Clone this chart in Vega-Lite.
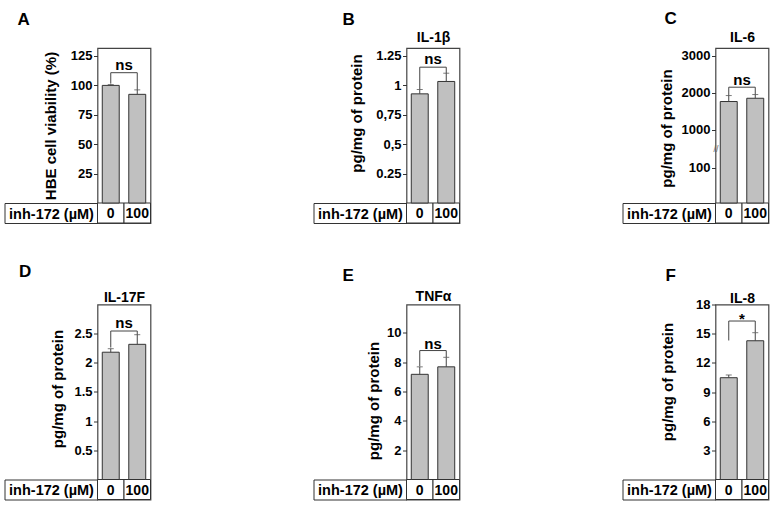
{
  "$schema": "https://vega.github.io/schema/vega-lite/v6.json",
  "background": "white",
  "padding": {"left": 1.5, "top": 9, "right": 5, "bottom": 5},
  "config": {
    "font": "Liberation Sans",
    "view": {"stroke": "#444", "strokeWidth": 1.2},
    "axis": {"labelFont": "Liberation Sans", "labelFontWeight": "bold", "labelColor": "#000", "titleColor": "#000", "titleFont": "Liberation Sans", "titleFontWeight": "bold", "tickColor": "#333", "grid": false, "labelOverlap": false},
    "title": {"font": "Liberation Sans", "color": "#000"},
    "text": {"font": "Liberation Sans", "color": "#000"}
  },
  "datasets": {
    "bars": [
      {"panel": "A", "dose": "0", "mean": 100, "upper": 100.7},
      {"panel": "A", "dose": "100", "mean": 92.4, "upper": 96.2},
      {"panel": "B", "dose": "0", "mean": 0.925, "upper": 0.962},
      {"panel": "B", "dose": "100", "mean": 1.03, "upper": 1.1},
      {"panel": "C", "dose": "0", "mean": 1761, "upper": 1922},
      {"panel": "C", "dose": "100", "mean": 1849, "upper": 1949},
      {"panel": "D", "dose": "0", "mean": 2.18, "upper": 2.24},
      {"panel": "D", "dose": "100", "mean": 2.315, "upper": 2.48},
      {"panel": "E", "dose": "0", "mean": 7.17, "upper": 7.68},
      {"panel": "E", "dose": "100", "mean": 7.68, "upper": 8.33},
      {"panel": "F", "dose": "0", "mean": 10.47, "upper": 10.75},
      {"panel": "F", "dose": "100", "mean": 14.27, "upper": 15.1}
    ],
    "brackets": [
      {"panel": "A", "dose": "0", "y": 101.5, "ord": 1},
      {"panel": "A", "dose": "0", "y": 110.8, "ord": 2},
      {"panel": "A", "dose": "100", "y": 110.8, "ord": 3},
      {"panel": "A", "dose": "100", "y": 96.2, "ord": 4},
      {"panel": "B", "dose": "0", "y": 0.965, "ord": 1},
      {"panel": "B", "dose": "0", "y": 1.151, "ord": 2},
      {"panel": "B", "dose": "100", "y": 1.151, "ord": 3},
      {"panel": "B", "dose": "100", "y": 1.1, "ord": 4},
      {"panel": "C", "dose": "0", "y": 1925, "ord": 1},
      {"panel": "C", "dose": "0", "y": 2147, "ord": 2},
      {"panel": "C", "dose": "100", "y": 2147, "ord": 3},
      {"panel": "C", "dose": "100", "y": 1955, "ord": 4},
      {"panel": "D", "dose": "0", "y": 2.26, "ord": 1},
      {"panel": "D", "dose": "0", "y": 2.543, "ord": 2},
      {"panel": "D", "dose": "100", "y": 2.543, "ord": 3},
      {"panel": "D", "dose": "100", "y": 2.48, "ord": 4},
      {"panel": "E", "dose": "0", "y": 7.72, "ord": 1},
      {"panel": "E", "dose": "0", "y": 8.79, "ord": 2},
      {"panel": "E", "dose": "100", "y": 8.79, "ord": 3},
      {"panel": "E", "dose": "100", "y": 8.35, "ord": 4},
      {"panel": "F", "dose": "0", "y": 14.3, "ord": 1},
      {"panel": "F", "dose": "0", "y": 16.3, "ord": 2},
      {"panel": "F", "dose": "100", "y": 16.3, "ord": 3},
      {"panel": "F", "dose": "100", "y": 15.12, "ord": 4}
    ],
    "sig": [
      {"panel": "A", "dose": "100", "y": 110.8, "label": "ns"},
      {"panel": "B", "dose": "100", "y": 1.151, "label": "ns"},
      {"panel": "C", "dose": "100", "y": 2147, "label": "ns"},
      {"panel": "D", "dose": "100", "y": 2.543, "label": "ns"},
      {"panel": "E", "dose": "100", "y": 8.79, "label": "ns"},
      {"panel": "F", "dose": "100", "y": 16.3, "label": "*"}
    ]
  },
  "columns": 3,
  "spacing": {"row": 81.5, "column": 256},
  "bounds": "flush",
  "concat": [
    {
      "width": 53, "height": 175,
      "title": {"text": "A", "anchor": "start", "frame": "group", "dx": -80, "offset": 5.5, "fontSize": 17, "fontWeight": "bold", "baseline": "alphabetic"},
      "layer": [
        {"data": {"name": "bars"}, "transform": [{"filter": "datum.panel == 'A'"}],
         "mark": {"type": "rect", "fill": "white", "stroke": "#333", "strokeWidth": 1},
         "encoding": {"x": {"field": "dose", "type": "nominal", "scale": {"domain": ["0", "100"], "paddingInner": 0, "paddingOuter": 0}}, "y": {"datum": -1}, "y2": {"datum": 0}}},
        {"data": {"name": "bars"}, "transform": [{"filter": "datum.panel == 'A'"}],
         "mark": {"type": "text", "fontSize": 14, "fontWeight": "bold", "baseline": "middle", "dy": 1},
         "encoding": {"x": {"field": "dose", "type": "nominal"}, "y": {"datum": -0.5}, "text": {"field": "dose"}}},
        {"data": {"name": "bars"}, "transform": [{"filter": "datum.panel == 'A'"}],
         "mark": {"type": "bar", "width": {"band": 0.64}, "fill": "#c0c0c0", "stroke": "#333", "strokeWidth": 1},
         "encoding": {
           "x": {"field": "dose", "type": "nominal", "scale": {"domain": ["0", "100"], "paddingInner": 0, "paddingOuter": 0},
                 "axis": {"orient": "top", "title": null, "domain": false, "values": ["0"], "tickSize": -175, "tickOffset": -106.25, "tickDash": [0, 155, 20], "tickColor": "#333", "tickWidth": 1,
                          "labels": true, "labelExpr": "'inh-172 (µM)'", "labelFontSize": 14.5, "labelAlign": "center", "labelBaseline": "middle", "labelOffset": 46.5, "labelPadding": 9, "labelAngle": 0}},
           "y": {"field": "mean", "type": "quantitative", "scale": {"domain": [-1, 0, 131.8], "range": [175, 155, 0], "nice": false, "zero": false},
                 "axis": {"values": [-1, 0, 25, 50, 75, 100, 125], "tickCount": 50,
                          "labelExpr": "datum.value > 0 ? '' + datum.value : ''",
                          "tickSize": {"condition": {"test": "datum.value <= 0", "value": 93}, "value": 4},
                          "labelPadding": 1.5,
                          "labelFontSize": {"condition": {"test": "datum.value <= 0", "value": 0}, "value": 13},
                          "domain": false, "labelOverlap": false, "labelFlush": false,
                          "title": "HBE cell viability (%)", "titleX": -39, "titleY": 77.5, "titleFontSize": 15}},
           "y2": {"datum": 0}}},
        {"data": {"name": "bars"}, "transform": [{"filter": "datum.panel == 'A'"}],
         "mark": {"type": "rule", "stroke": "#444", "strokeWidth": 1},
         "encoding": {"x": {"field": "dose", "type": "nominal"}, "y": {"field": "mean", "type": "quantitative"}, "y2": {"field": "upper"}}},
        {"data": {"name": "bars"}, "transform": [{"filter": "datum.panel == 'A'"}],
         "mark": {"type": "tick", "orient": "horizontal", "size": 6, "thickness": 1, "color": "#444"},
         "encoding": {"x": {"field": "dose", "type": "nominal"}, "y": {"field": "upper", "type": "quantitative"}}},
        {"data": {"name": "brackets"}, "transform": [{"filter": "datum.panel == 'A'"}],
         "mark": {"type": "line", "stroke": "#444", "strokeWidth": 1},
         "encoding": {"x": {"field": "dose", "type": "nominal"}, "y": {"field": "y", "type": "quantitative"}, "order": {"field": "ord"}}},
        {"data": {"name": "sig"}, "transform": [{"filter": "datum.panel == 'A'"}],
         "mark": {"type": "text", "fontSize": 15, "fontWeight": "bold", "baseline": "alphabetic", "dy": -3},
         "encoding": {"x": {"field": "dose", "type": "nominal", "bandPosition": 0}, "y": {"field": "y", "type": "quantitative"}, "text": {"field": "label"}}}
      ]
    },
    {
      "width": 53, "height": 175,
      "title": {"text": "B", "anchor": "start", "frame": "group", "dx": -64, "offset": -11.3, "fontSize": 17, "fontWeight": "bold", "baseline": "alphabetic"},
      "layer": [
        {"data": {"name": "bars"}, "transform": [{"filter": "datum.panel == 'B'"}],
         "mark": {"type": "rect", "fill": "white", "stroke": "#333", "strokeWidth": 1},
         "encoding": {"x": {"field": "dose", "type": "nominal", "scale": {"domain": ["0", "100"], "paddingInner": 0, "paddingOuter": 0}}, "y": {"datum": -1}, "y2": {"datum": 0}}},
        {"data": {"name": "bars"}, "transform": [{"filter": "datum.panel == 'B'"}],
         "mark": {"type": "text", "fontSize": 14, "fontWeight": "bold", "baseline": "middle", "dy": 1},
         "encoding": {"x": {"field": "dose", "type": "nominal"}, "y": {"datum": -0.5}, "text": {"field": "dose"}}},
        {"data": {"name": "bars"}, "transform": [{"filter": "datum.panel == 'B'"}],
         "mark": {"type": "bar", "width": {"band": 0.64}, "fill": "#c0c0c0", "stroke": "#333", "strokeWidth": 1},
         "encoding": {
           "x": {"field": "dose", "type": "nominal", "scale": {"domain": ["0", "100"], "paddingInner": 0, "paddingOuter": 0},
                 "axis": {"orient": "top", "title": "IL-1β", "titleFontSize": 14, "titlePadding": 6, "titleBaseline": "alphabetic", "domain": false, "values": ["0"], "tickSize": -175, "tickOffset": -106.25, "tickDash": [0, 155, 20], "tickColor": "#333", "tickWidth": 1,
                          "labels": true, "labelExpr": "'inh-172 (µM)'", "labelFontSize": 14.5, "labelAlign": "center", "labelBaseline": "middle", "labelOffset": 46.5, "labelPadding": 9, "labelAngle": 0}},
           "y": {"field": "mean", "type": "quantitative", "scale": {"domain": [-1, 0, 1.3136], "range": [175, 155, 0], "nice": false, "zero": false},
                 "axis": {"values": [-1, 0, 0.25, 0.5, 0.75, 1, 1.25], "tickCount": 50,
                          "labelExpr": "datum.value == 1.25 ? '1.25' : datum.value == 1 ? '1' : datum.value == 0.75 ? '0,75' : datum.value == 0.5 ? '0,5' : datum.value == 0.25 ? '0.25' : ''",
                          "tickSize": {"condition": {"test": "datum.value <= 0", "value": 93}, "value": 4},
                          "labelPadding": 1.5,
                          "labelFontSize": {"condition": {"test": "datum.value <= 0", "value": 0}, "value": 13},
                          "domain": false, "labelOverlap": false, "labelFlush": false,
                          "title": "pg/mg of protein", "titleX": -42, "titleY": 65, "titleFontSize": 15}},
           "y2": {"datum": 0}}},
        {"data": {"name": "bars"}, "transform": [{"filter": "datum.panel == 'B'"}],
         "mark": {"type": "rule", "stroke": "#444", "strokeWidth": 1},
         "encoding": {"x": {"field": "dose", "type": "nominal"}, "y": {"field": "mean", "type": "quantitative"}, "y2": {"field": "upper"}}},
        {"data": {"name": "bars"}, "transform": [{"filter": "datum.panel == 'B'"}],
         "mark": {"type": "tick", "orient": "horizontal", "size": 6, "thickness": 1, "color": "#444"},
         "encoding": {"x": {"field": "dose", "type": "nominal"}, "y": {"field": "upper", "type": "quantitative"}}},
        {"data": {"name": "brackets"}, "transform": [{"filter": "datum.panel == 'B'"}],
         "mark": {"type": "line", "stroke": "#444", "strokeWidth": 1},
         "encoding": {"x": {"field": "dose", "type": "nominal"}, "y": {"field": "y", "type": "quantitative"}, "order": {"field": "ord"}}},
        {"data": {"name": "sig"}, "transform": [{"filter": "datum.panel == 'B'"}],
         "mark": {"type": "text", "fontSize": 15, "fontWeight": "bold", "baseline": "alphabetic", "dy": -3},
         "encoding": {"x": {"field": "dose", "type": "nominal", "bandPosition": 0}, "y": {"field": "y", "type": "quantitative"}, "text": {"field": "label"}}}
      ]
    },
    {
      "width": 53, "height": 175,
      "title": {"text": "C", "anchor": "start", "frame": "group", "dx": -51, "offset": -11.3, "fontSize": 17, "fontWeight": "bold", "baseline": "alphabetic"},
      "layer": [
        {"data": {"name": "bars"}, "transform": [{"filter": "datum.panel == 'C'"}],
         "mark": {"type": "rect", "fill": "white", "stroke": "#333", "strokeWidth": 1},
         "encoding": {"x": {"field": "dose", "type": "nominal", "scale": {"domain": ["0", "100"], "paddingInner": 0, "paddingOuter": 0}}, "y": {"datum": -1}, "y2": {"datum": 0}}},
        {"data": {"name": "bars"}, "transform": [{"filter": "datum.panel == 'C'"}],
         "mark": {"type": "text", "fontSize": 14, "fontWeight": "bold", "baseline": "middle", "dy": 1},
         "encoding": {"x": {"field": "dose", "type": "nominal"}, "y": {"datum": -0.5}, "text": {"field": "dose"}}},
        {"data": {"name": "bars"}, "transform": [{"filter": "datum.panel == 'C'"}],
         "mark": {"type": "bar", "width": {"band": 0.64}, "fill": "#c0c0c0", "stroke": "#333", "strokeWidth": 1},
         "encoding": {
           "x": {"field": "dose", "type": "nominal", "scale": {"domain": ["0", "100"], "paddingInner": 0, "paddingOuter": 0},
                 "axis": {"orient": "top", "title": "IL-6", "titleFontSize": 14, "titlePadding": 6.5, "titleBaseline": "alphabetic", "domain": false, "values": ["0"], "tickSize": -175, "tickOffset": -106.25, "tickDash": [0, 155, 20], "tickColor": "#333", "tickWidth": 1,
                          "labels": true, "labelExpr": "'inh-172 (µM)'", "labelFontSize": 14.5, "labelAlign": "center", "labelBaseline": "middle", "labelOffset": 46.5, "labelPadding": 9, "labelAngle": 0}},
           "y": {"field": "mean", "type": "quantitative", "scale": {"domain": [-1, 0, 100, 1000, 3000, 3202], "range": [175, 155, 119.8, 81.8, 7.5, 0], "nice": false, "zero": false},
                 "axis": {"values": [-1, 0, 100, 550, 1000, 2000, 3000], "tickCount": 50,
                          "labelExpr": "datum.value == 550 ? '//' : datum.value > 0 ? '' + datum.value : ''",
                          "tickSize": {"condition": [{"test": "datum.value == 550", "value": 0}, {"test": "datum.value <= 0", "value": 93}], "value": 4},
                          "labelPadding": {"condition": {"test": "datum.value == 550", "value": 0}, "value": 1.5},
                          "labelFontSize": {"condition": [{"test": "datum.value == 550", "value": 9}, {"test": "datum.value <= 0", "value": 0}], "value": 13},
                          "labelAlign": {"condition": {"test": "datum.value == 550", "value": "center"}, "value": "right"},
                          "labelFontWeight": {"condition": {"test": "datum.value == 550", "value": "normal"}, "value": "bold"},
                          "labelColor": {"condition": {"test": "datum.value == 550", "value": "#666"}, "value": "#000"},
                          "domain": false, "labelOverlap": false, "labelFlush": false,
                          "title": "pg/mg of protein", "titleX": -41, "titleY": 80, "titleFontSize": 15}},
           "y2": {"datum": 0}}},
        {"data": {"name": "bars"}, "transform": [{"filter": "datum.panel == 'C'"}],
         "mark": {"type": "rule", "stroke": "#444", "strokeWidth": 1},
         "encoding": {"x": {"field": "dose", "type": "nominal"}, "y": {"field": "mean", "type": "quantitative"}, "y2": {"field": "upper"}}},
        {"data": {"name": "bars"}, "transform": [{"filter": "datum.panel == 'C'"}],
         "mark": {"type": "tick", "orient": "horizontal", "size": 6, "thickness": 1, "color": "#444"},
         "encoding": {"x": {"field": "dose", "type": "nominal"}, "y": {"field": "upper", "type": "quantitative"}}},
        {"data": {"name": "brackets"}, "transform": [{"filter": "datum.panel == 'C'"}],
         "mark": {"type": "line", "stroke": "#444", "strokeWidth": 1},
         "encoding": {"x": {"field": "dose", "type": "nominal"}, "y": {"field": "y", "type": "quantitative"}, "order": {"field": "ord"}}},
        {"data": {"name": "sig"}, "transform": [{"filter": "datum.panel == 'C'"}],
         "mark": {"type": "text", "fontSize": 15, "fontWeight": "bold", "baseline": "alphabetic", "dy": -2},
         "encoding": {"x": {"field": "dose", "type": "nominal", "bandPosition": 0}, "y": {"field": "y", "type": "quantitative"}, "text": {"field": "label"}}}
      ]
    },
    {
      "width": 53, "height": 195,
      "title": {"text": "D", "anchor": "start", "frame": "group", "dx": -78.5, "offset": -3.8, "fontSize": 17, "fontWeight": "bold", "baseline": "alphabetic"},
      "layer": [
        {"data": {"name": "bars"}, "transform": [{"filter": "datum.panel == 'D'"}],
         "mark": {"type": "rect", "fill": "white", "stroke": "#333", "strokeWidth": 1},
         "encoding": {"x": {"field": "dose", "type": "nominal", "scale": {"domain": ["0", "100"], "paddingInner": 0, "paddingOuter": 0}}, "y": {"datum": -1}, "y2": {"datum": 0}}},
        {"data": {"name": "bars"}, "transform": [{"filter": "datum.panel == 'D'"}],
         "mark": {"type": "text", "fontSize": 14, "fontWeight": "bold", "baseline": "middle", "dy": 1},
         "encoding": {"x": {"field": "dose", "type": "nominal"}, "y": {"datum": -0.5}, "text": {"field": "dose"}}},
        {"data": {"name": "bars"}, "transform": [{"filter": "datum.panel == 'D'"}],
         "mark": {"type": "bar", "width": {"band": 0.64}, "fill": "#c0c0c0", "stroke": "#333", "strokeWidth": 1},
         "encoding": {
           "x": {"field": "dose", "type": "nominal", "scale": {"domain": ["0", "100"], "paddingInner": 0, "paddingOuter": 0},
                 "axis": {"orient": "top", "title": "IL-17F", "titleFontSize": 14, "titlePadding": 2.5, "titleBaseline": "alphabetic", "domain": false, "values": ["0"], "tickSize": -195, "tickOffset": -106.25, "tickDash": [0, 175, 20], "tickColor": "#333", "tickWidth": 1,
                          "labels": true, "labelExpr": "'inh-172 (µM)'", "labelFontSize": 14.5, "labelAlign": "center", "labelBaseline": "middle", "labelOffset": 46.5, "labelPadding": 9, "labelAngle": 0}},
           "y": {"field": "mean", "type": "quantitative", "scale": {"domain": [-1, 0, 2.997], "range": [195, 175, 0], "nice": false, "zero": false},
                 "axis": {"values": [-1, 0, 0.5, 1, 1.5, 2, 2.5], "tickCount": 50,
                          "labelExpr": "datum.value > 0 ? '' + datum.value : ''",
                          "tickSize": {"condition": {"test": "datum.value <= 0", "value": 93}, "value": 4},
                          "labelPadding": 1.5,
                          "labelFontSize": {"condition": {"test": "datum.value <= 0", "value": 0}, "value": 13},
                          "domain": false, "labelOverlap": false, "labelFlush": false,
                          "title": "pg/mg of protein", "titleX": -32, "titleY": 84, "titleFontSize": 15}},
           "y2": {"datum": 0}}},
        {"data": {"name": "bars"}, "transform": [{"filter": "datum.panel == 'D'"}],
         "mark": {"type": "rule", "stroke": "#444", "strokeWidth": 1},
         "encoding": {"x": {"field": "dose", "type": "nominal"}, "y": {"field": "mean", "type": "quantitative"}, "y2": {"field": "upper"}}},
        {"data": {"name": "bars"}, "transform": [{"filter": "datum.panel == 'D'"}],
         "mark": {"type": "tick", "orient": "horizontal", "size": 6, "thickness": 1, "color": "#444"},
         "encoding": {"x": {"field": "dose", "type": "nominal"}, "y": {"field": "upper", "type": "quantitative"}}},
        {"data": {"name": "brackets"}, "transform": [{"filter": "datum.panel == 'D'"}],
         "mark": {"type": "line", "stroke": "#444", "strokeWidth": 1},
         "encoding": {"x": {"field": "dose", "type": "nominal"}, "y": {"field": "y", "type": "quantitative"}, "order": {"field": "ord"}}},
        {"data": {"name": "sig"}, "transform": [{"filter": "datum.panel == 'D'"}],
         "mark": {"type": "text", "fontSize": 15, "fontWeight": "bold", "baseline": "alphabetic", "dy": -3},
         "encoding": {"x": {"field": "dose", "type": "nominal", "bandPosition": 0}, "y": {"field": "y", "type": "quantitative"}, "text": {"field": "label"}}}
      ]
    },
    {
      "width": 53, "height": 195,
      "title": {"text": "E", "anchor": "start", "frame": "group", "dx": -64, "offset": -8.6, "fontSize": 17, "fontWeight": "bold", "baseline": "alphabetic"},
      "layer": [
        {"data": {"name": "bars"}, "transform": [{"filter": "datum.panel == 'E'"}],
         "mark": {"type": "rect", "fill": "white", "stroke": "#333", "strokeWidth": 1},
         "encoding": {"x": {"field": "dose", "type": "nominal", "scale": {"domain": ["0", "100"], "paddingInner": 0, "paddingOuter": 0}}, "y": {"datum": -1}, "y2": {"datum": 0}}},
        {"data": {"name": "bars"}, "transform": [{"filter": "datum.panel == 'E'"}],
         "mark": {"type": "text", "fontSize": 14, "fontWeight": "bold", "baseline": "middle", "dy": 1},
         "encoding": {"x": {"field": "dose", "type": "nominal"}, "y": {"datum": -0.5}, "text": {"field": "dose"}}},
        {"data": {"name": "bars"}, "transform": [{"filter": "datum.panel == 'E'"}],
         "mark": {"type": "bar", "width": {"band": 0.64}, "fill": "#c0c0c0", "stroke": "#333", "strokeWidth": 1},
         "encoding": {
           "x": {"field": "dose", "type": "nominal", "scale": {"domain": ["0", "100"], "paddingInner": 0, "paddingOuter": 0},
                 "axis": {"orient": "top", "title": "TNFα", "titleFontSize": 14, "titlePadding": 4, "titleBaseline": "alphabetic", "domain": false, "values": ["0"], "tickSize": -195, "tickOffset": -106.25, "tickDash": [0, 175, 20], "tickColor": "#333", "tickWidth": 1,
                          "labels": true, "labelExpr": "'inh-172 (µM)'", "labelFontSize": 14.5, "labelAlign": "center", "labelBaseline": "middle", "labelOffset": 46.5, "labelPadding": 9, "labelAngle": 0}},
           "y": {"field": "mean", "type": "quantitative", "scale": {"domain": [-1, 0, 11.93], "range": [195, 175, 0], "nice": false, "zero": false},
                 "axis": {"values": [-1, 0, 2, 4, 6, 8, 10], "tickCount": 50,
                          "labelExpr": "datum.value > 0 ? '' + datum.value : ''",
                          "tickSize": {"condition": {"test": "datum.value <= 0", "value": 93}, "value": 4},
                          "labelPadding": 1.5,
                          "labelFontSize": {"condition": {"test": "datum.value <= 0", "value": 0}, "value": 13},
                          "domain": false, "labelOverlap": false, "labelFlush": false,
                          "title": "pg/mg of protein", "titleX": -25, "titleY": 96, "titleFontSize": 15}},
           "y2": {"datum": 0}}},
        {"data": {"name": "bars"}, "transform": [{"filter": "datum.panel == 'E'"}],
         "mark": {"type": "rule", "stroke": "#444", "strokeWidth": 1},
         "encoding": {"x": {"field": "dose", "type": "nominal"}, "y": {"field": "mean", "type": "quantitative"}, "y2": {"field": "upper"}}},
        {"data": {"name": "bars"}, "transform": [{"filter": "datum.panel == 'E'"}],
         "mark": {"type": "tick", "orient": "horizontal", "size": 6, "thickness": 1, "color": "#444"},
         "encoding": {"x": {"field": "dose", "type": "nominal"}, "y": {"field": "upper", "type": "quantitative"}}},
        {"data": {"name": "brackets"}, "transform": [{"filter": "datum.panel == 'E'"}],
         "mark": {"type": "line", "stroke": "#444", "strokeWidth": 1},
         "encoding": {"x": {"field": "dose", "type": "nominal"}, "y": {"field": "y", "type": "quantitative"}, "order": {"field": "ord"}}},
        {"data": {"name": "sig"}, "transform": [{"filter": "datum.panel == 'E'"}],
         "mark": {"type": "text", "fontSize": 15, "fontWeight": "bold", "baseline": "alphabetic", "dy": -2},
         "encoding": {"x": {"field": "dose", "type": "nominal", "bandPosition": 0}, "y": {"field": "y", "type": "quantitative"}, "text": {"field": "label"}}}
      ]
    },
    {
      "width": 53, "height": 195,
      "title": {"text": "F", "anchor": "start", "frame": "group", "dx": -50, "offset": -6.9, "fontSize": 17, "fontWeight": "bold", "baseline": "alphabetic"},
      "layer": [
        {"data": {"name": "bars"}, "transform": [{"filter": "datum.panel == 'F'"}],
         "mark": {"type": "rect", "fill": "white", "stroke": "#333", "strokeWidth": 1},
         "encoding": {"x": {"field": "dose", "type": "nominal", "scale": {"domain": ["0", "100"], "paddingInner": 0, "paddingOuter": 0}}, "y": {"datum": -1}, "y2": {"datum": 0}}},
        {"data": {"name": "bars"}, "transform": [{"filter": "datum.panel == 'F'"}],
         "mark": {"type": "text", "fontSize": 14, "fontWeight": "bold", "baseline": "middle", "dy": 1},
         "encoding": {"x": {"field": "dose", "type": "nominal"}, "y": {"datum": -0.5}, "text": {"field": "dose"}}},
        {"data": {"name": "bars"}, "transform": [{"filter": "datum.panel == 'F'"}],
         "mark": {"type": "bar", "width": {"band": 0.64}, "fill": "#c0c0c0", "stroke": "#333", "strokeWidth": 1},
         "encoding": {
           "x": {"field": "dose", "type": "nominal", "scale": {"domain": ["0", "100"], "paddingInner": 0, "paddingOuter": 0},
                 "axis": {"orient": "top", "title": "IL-8", "titleFontSize": 14, "titlePadding": 2, "titleBaseline": "alphabetic", "domain": false, "values": ["0"], "tickSize": -195, "tickOffset": -106.25, "tickDash": [0, 175, 20], "tickColor": "#333", "tickWidth": 1,
                          "labels": true, "labelExpr": "'inh-172 (µM)'", "labelFontSize": 14.5, "labelAlign": "center", "labelBaseline": "middle", "labelOffset": 46.5, "labelPadding": 9, "labelAngle": 0}},
           "y": {"field": "mean", "type": "quantitative", "scale": {"domain": [-1, 0, 18], "range": [195, 175, 0], "nice": false, "zero": false},
                 "axis": {"values": [-1, 0, 3, 6, 9, 12, 15, 18], "tickCount": 50,
                          "labelExpr": "datum.value > 0 ? '' + datum.value : ''",
                          "tickSize": {"condition": {"test": "datum.value <= 0", "value": 93}, "value": 4},
                          "labelPadding": 1.5,
                          "labelFontSize": {"condition": {"test": "datum.value <= 0", "value": 0}, "value": 13},
                          "domain": false, "labelOverlap": false, "labelFlush": false,
                          "title": "pg/mg of protein", "titleX": -40, "titleY": 77, "titleFontSize": 15}},
           "y2": {"datum": 0}}},
        {"data": {"name": "bars"}, "transform": [{"filter": "datum.panel == 'F'"}],
         "mark": {"type": "rule", "stroke": "#444", "strokeWidth": 1},
         "encoding": {"x": {"field": "dose", "type": "nominal"}, "y": {"field": "mean", "type": "quantitative"}, "y2": {"field": "upper"}}},
        {"data": {"name": "bars"}, "transform": [{"filter": "datum.panel == 'F'"}],
         "mark": {"type": "tick", "orient": "horizontal", "size": 6, "thickness": 1, "color": "#444"},
         "encoding": {"x": {"field": "dose", "type": "nominal"}, "y": {"field": "upper", "type": "quantitative"}}},
        {"data": {"name": "brackets"}, "transform": [{"filter": "datum.panel == 'F'"}],
         "mark": {"type": "line", "stroke": "#444", "strokeWidth": 1},
         "encoding": {"x": {"field": "dose", "type": "nominal"}, "y": {"field": "y", "type": "quantitative"}, "order": {"field": "ord"}}},
        {"data": {"name": "sig"}, "transform": [{"filter": "datum.panel == 'F'"}],
         "mark": {"type": "text", "fontSize": 15, "fontWeight": "bold", "baseline": "alphabetic", "dy": 3},
         "encoding": {"x": {"field": "dose", "type": "nominal", "bandPosition": 0}, "y": {"field": "y", "type": "quantitative"}, "text": {"field": "label"}}}
      ]
    }
  ]
}
